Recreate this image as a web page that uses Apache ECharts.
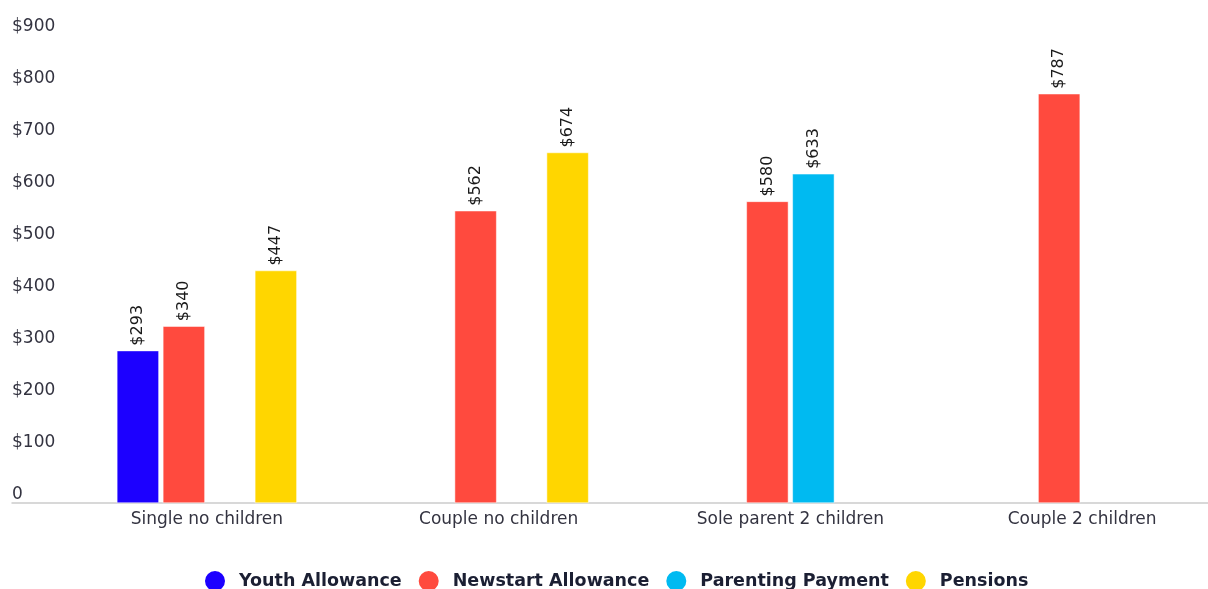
<!DOCTYPE html>
<html>
<head>
<meta charset="utf-8">
<script src="https://cdn.jsdelivr.net/npm/echarts@6/dist/echarts.min.js"></script>
<style>
html,body{margin:0;padding:0;background:#fff;}
#chart{width:1208px;height:589px;}
</style>
</head>
<body>
<div id="chart"></div>
<script>
const categories = ['Single no children', 'Couple no children', 'Sole parent 2 children', 'Couple 2 children'];
const seriesNames = ['Youth Allowance', 'Newstart Allowance', 'Parenting Payment', 'Pensions'];
const youthAllowance = [293, null, null, null];
const newstartAllowance = [340, 562, 580, 787];
const parentingPayment = [null, null, 633, null];
const pensions = [447, 674, null, null];
const yTicks = [0, 100, 200, 300, 400, 500, 600, 700, 800, 900];
const colors = ['#1c00ff', '#ff4a3e', '#00baf1', '#ffd600'];

const FONT = 'DejaVu Sans';
const chart = echarts.init(document.getElementById('chart'), null, {renderer: 'canvas'});
const seriesData = [youthAllowance, newstartAllowance, parentingPayment, pensions];

const option = {
  animation: false,
  color: colors,
  textStyle: {fontFamily: FONT},
  grid: [
    {left: 61, width: 1167, top: 35, bottom: 86, outerBoundsMode: 'none', containLabel: false},
    {left: 12, right: 0, top: 35, bottom: 86, outerBoundsMode: 'none', containLabel: false}
  ],
  legend: {
    data: seriesNames,
    top: 564,
    left: 198,
    icon: 'circle',
    itemWidth: 22,
    itemHeight: 22,
    itemGap: 15,
    textStyle: {fontFamily: FONT, fontSize: 17.5, fontWeight: 'bold', color: '#1b1f33', padding: [0, 0, 0, 8]}
  },
  xAxis: [
    {
      type: 'category',
      gridIndex: 0,
      data: categories,
      axisLine: {show: false},
      axisTick: {show: false},
      axisLabel: {fontFamily: FONT, fontSize: 17, color: '#333340', margin: 8}
    },
    {
      type: 'category',
      gridIndex: 1,
      data: categories,
      axisLine: {show: true, lineStyle: {color: '#cccccc', width: 1.5}},
      axisTick: {show: false},
      axisLabel: {show: false}
    }
  ],
  yAxis: [
    {
      type: 'value',
      gridIndex: 0,
      min: 0,
      max: 900,
      interval: 100,
      splitLine: {show: false},
      axisLine: {show: false},
      axisTick: {show: false},
      axisLabel: {
        fontFamily: FONT,
        fontSize: 17,
        color: '#333340',
        align: 'left',
        margin: 49,
        verticalAlign: 'bottom',
        formatter: v => yTicks.includes(v) ? (v === 0 ? '0' : '$' + v) : ''
      }
    },
    {
      type: 'value', gridIndex: 1, min: 0, max: 900, show: false
    }
  ],
  series: seriesNames.map((name, i) => ({
    name: name,
    type: 'bar',
    xAxisIndex: 0,
    yAxisIndex: 0,
    data: seriesData[i],
    barWidth: 42,
    barGap: '9.5%',
    itemStyle: {color: colors[i], borderColor: '#ffffff', borderWidth: 0.5},
    label: {
      show: true,
      position: 'top',
      rotate: 90,
      align: 'left',
      verticalAlign: 'middle',
      distance: 5,
      fontFamily: 'DejaVu Sans',
      fontSize: 16,
      color: '#1a1a1a',
      formatter: p => p.value == null ? '' : '$' + p.value
    }
  }))
};
chart.setOption(option);
</script>
</body>
</html>
